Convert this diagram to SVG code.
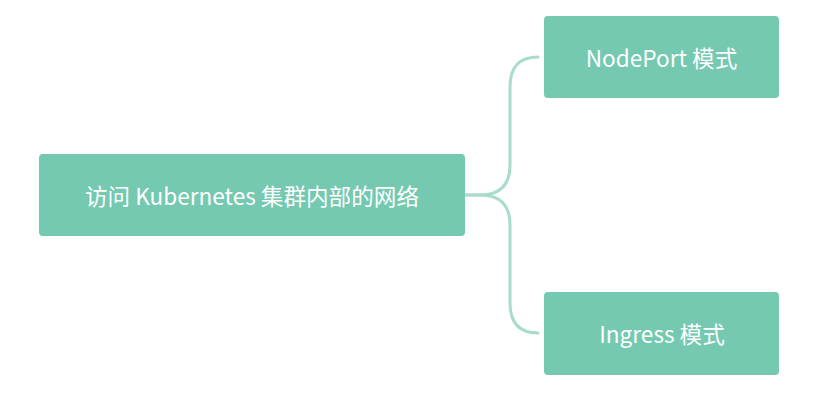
<svg xmlns="http://www.w3.org/2000/svg" width="840" height="403" viewBox="0 0 840 403">
<style>
.node rect{fill:#74c9b0;}
.node text{fill:#ffffff;font-family:"Noto Sans CJK SC","Noto Sans",sans-serif;font-size:22.6px;text-anchor:middle;dominant-baseline:central;}
.conn path{fill:none;stroke:#a9dcca;stroke-width:3;stroke-linecap:round;}
</style>
<rect width="840" height="403" fill="#ffffff"/>
<g class="conn" id="connectors">
<path d="M466,195 L480,195 Q510,195 510,165 L510,87 Q510,57 538,57"/>
<path d="M466,195 L480,195 Q510,195 510,225 L510,303 Q510,333 538,333"/>
</g>
<g class="node" id="root">
<rect x="39" y="154" width="426" height="82" rx="4"/>
<text x="252" y="195">访问 Kubernetes 集群内部的网络</text>
</g>
<g class="node" id="nodeport">
<rect x="544" y="16" width="235" height="82" rx="4"/>
<text x="661.5" y="57">NodePort 模式</text>
</g>
<g class="node" id="ingress">
<rect x="544" y="292" width="235" height="83" rx="4"/>
<text x="662" y="333">Ingress 模式</text>
</g>
</svg>
